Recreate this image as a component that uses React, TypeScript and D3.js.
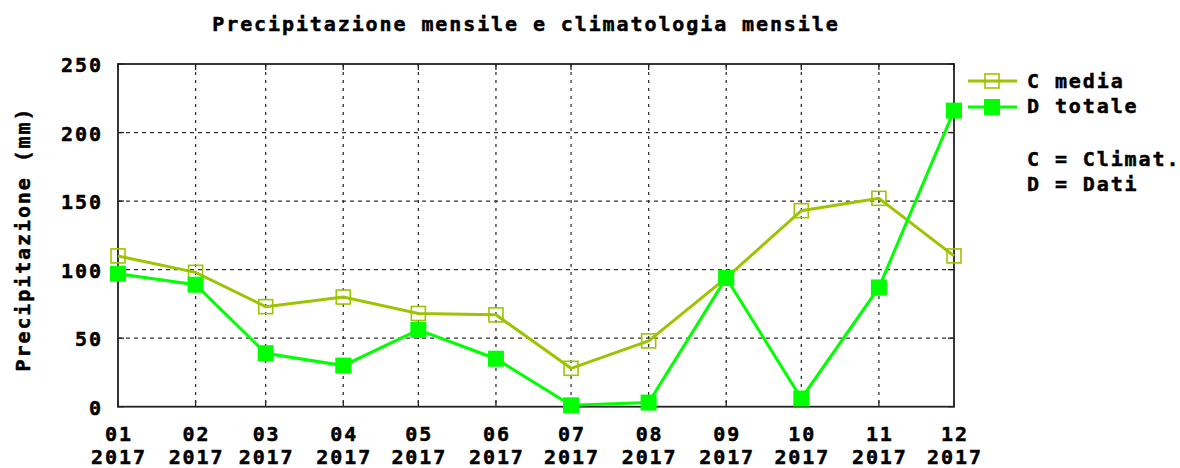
import React from "react";
import * as d3 from "d3";

const months = ["01", "02", "03", "04", "05", "06", "07", "08", "09", "10", "11", "12"];
const yearLabel = "2017";
const climaMedia = [110, 98, 73, 80, 68, 67, 28, 48, 94, 143, 152, 110];
const datiTotale = [97, 89, 39, 30, 56, 35, 1, 3, 94, 6, 87, 216];
const yTicks = [0, 50, 100, 150, 200, 250];
const title = "Precipitazione mensile e climatologia mensile";
const yTitle = "Precipitazione (mm)";
const legendSeries = ["C media", "D totale"];
const legendNotes = ["C = Climat.", "D = Dati"];

const W = 1180;
const H = 468;
const L = 118, R = 954, T = 64, B = 406.7;
const FONT = "'DejaVu Sans Mono', monospace";
const FS = 20;
const LS = 1.9;
const C_COLOR = "#9cc400";
const D_COLOR = "#00ff00";

export default function App() {
  const dates = months.map((m, i) => new Date(Date.UTC(2017, i, 1)));
  const x = d3.scaleUtc().domain([dates[0], dates[dates.length - 1]]).range([L, R]);
  const y = d3.scaleLinear().domain([0, 250]).range([B, T]);
  const line = d3
    .line<number>()
    .x((_, i) => x(dates[i]))
    .y((v) => y(v));

  const textStyle: React.CSSProperties = {
    fontFamily: FONT,
    fontWeight: "bold",
    fontSize: FS,
    letterSpacing: LS,
    fill: "#000",
    stroke: "#000",
    strokeWidth: 0.5,
  };

  return (
    <svg
      width={W}
      height={H}
      style={{ position: "absolute", left: 0, top: 0, background: "#fff" }}
    >
      <rect x={0} y={0} width={W} height={H} fill="#fff" />
      {/* title */}
      <text x={525 + LS / 2} y={31} textAnchor="middle" style={textStyle}>
        {title}
      </text>
      {/* y axis title */}
      <text
        transform={`translate(30,${239}) rotate(-90)`}
        textAnchor="middle"
        style={textStyle}
      >
        {yTitle}
      </text>
      {/* horizontal grid */}
      {yTicks
        .filter((t) => t > 0 && t < 250)
        .map((t) => (
          <line
            key={"hg" + t}
            x1={L}
            x2={R}
            y1={y(t)}
            y2={y(t)}
            stroke="#333"
            strokeWidth={1.3}
            strokeDasharray="4,4"
          />
        ))}
      {/* vertical grid */}
      {dates.slice(1, -1).map((d, i) => (
        <line
          key={"vg" + i}
          x1={x(d)}
          x2={x(d)}
          y1={T}
          y2={B}
          stroke="#333"
          strokeWidth={1.3}
          strokeDasharray="3,5"
        />
      ))}
      {/* tick marks */}
      {yTicks.map((t) => (
        <g key={"yt" + t}>
          <line x1={L} x2={L + 6} y1={y(t)} y2={y(t)} stroke="#222" strokeWidth={1.3} />
          <line x1={R} x2={R - 6} y1={y(t)} y2={y(t)} stroke="#222" strokeWidth={1.3} />
        </g>
      ))}
      {dates.map((d, i) => (
        <g key={"xt" + i}>
          <line x1={x(d)} x2={x(d)} y1={B} y2={B - 6} stroke="#222" strokeWidth={1.3} />
          <line x1={x(d)} x2={x(d)} y1={T} y2={T + 6} stroke="#222" strokeWidth={1.3} />
        </g>
      ))}
      {/* border */}
      <rect x={L} y={T} width={R - L} height={B - T} fill="none" stroke="#222" strokeWidth={1.8} />
      {/* y tick labels */}
      {yTicks.map((t) => (
        <text key={"yl" + t} x={101 + LS} y={y(t) + 8} textAnchor="end" style={textStyle}>
          {t}
        </text>
      ))}
      {/* x tick labels */}
      {dates.map((d, i) => (
        <g key={"xl" + i}>
          <text x={x(d) + LS / 2} y={441} textAnchor="middle" style={textStyle}>
            {months[i]}
          </text>
          <text x={x(d) + LS / 2} y={464} textAnchor="middle" style={textStyle}>
            {yearLabel}
          </text>
        </g>
      ))}
      {/* clima series */}
      <path d={line(climaMedia) || ""} fill="none" stroke={C_COLOR} strokeWidth={3} />
      {climaMedia.map((v, i) => (
        <rect
          key={"cm" + i}
          x={x(dates[i]) - 7}
          y={y(v) - 7}
          width={14}
          height={14}
          fill="none"
          stroke={C_COLOR}
          strokeWidth={1.6}
        />
      ))}
      {/* dati series */}
      <path d={line(datiTotale) || ""} fill="none" stroke={D_COLOR} strokeWidth={3} />
      {datiTotale.map((v, i) => (
        <rect
          key={"dt" + i}
          x={x(dates[i]) - 8}
          y={y(v) - 8}
          width={16}
          height={16}
          fill={D_COLOR}
        />
      ))}
      {/* legend */}
      <line x1={968} x2={1017} y1={81} y2={81} stroke={C_COLOR} strokeWidth={3} />
      <rect x={985} y={74} width={14} height={14} fill="none" stroke={C_COLOR} strokeWidth={1.6} />
      <text x={1027} y={88} style={textStyle}>
        {legendSeries[0]}
      </text>
      <line x1={968} x2={1017} y1={107} y2={107} stroke={D_COLOR} strokeWidth={3} />
      <rect x={984} y={99} width={16} height={16} fill={D_COLOR} />
      <text x={1027} y={113} style={textStyle}>
        {legendSeries[1]}
      </text>
      <text x={1027} y={166} style={textStyle}>
        {legendNotes[0]}
      </text>
      <text x={1027} y={191} style={textStyle}>
        {legendNotes[1]}
      </text>
    </svg>
  );
}
